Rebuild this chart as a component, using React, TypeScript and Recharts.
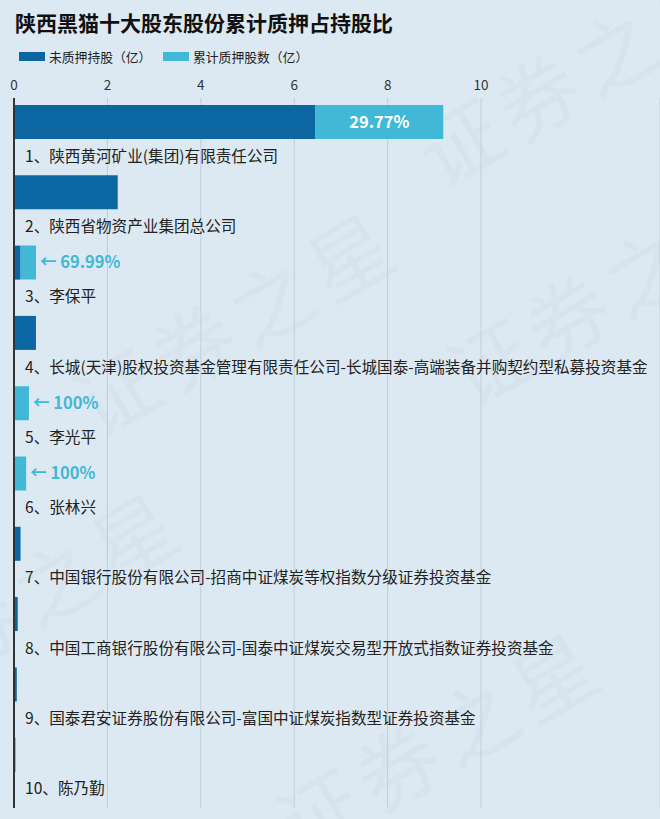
import React from "react";
import { Bar, BarChart, CartesianGrid, LabelList, XAxis, YAxis } from "recharts";

// 十大股东
const holders = [
  "1、陕西黄河矿业(集团)有限责任公司",
  "2、陕西省物资产业集团总公司",
  "3、李保平",
  "4、长城(天津)股权投资基金管理有限责任公司-长城国泰-高端装备并购契约型私募投资基金",
  "5、李光平",
  "6、张林兴",
  "7、中国银行股份有限公司-招商中证煤炭等权指数分级证券投资基金",
  "8、中国工商银行股份有限公司-国泰中证煤炭交易型开放式指数证券投资基金",
  "9、国泰君安证券股份有限公司-富国中证煤炭指数型证券投资基金",
  "10、陈乃勤",
];

// 未质押持股（亿）
const unpledged = [6.454, 2.22, 0.141, 0.47, 0, 0, 0.14, 0.08, 0.06, 0.03];
// 累计质押股数（亿）
const pledged = [2.736, 0, 0.33, 0, 0.32, 0.26, 0, 0, 0, 0];
// 累计质押占持股比
const pledgeRatio = ["29.77%", "", "69.99%", "", "100%", "100%", "", "", "", ""];

const xTicks = [0, 2, 4, 6, 8, 10];

const DARK = "#0b66a1";
const LIGHT = "#41b8d5";
const FONT = '"Noto Sans CJK SC", "Noto Sans", sans-serif';

const data = holders.map((name, i) => ({
  name,
  unpledged: unpledged[i],
  pledged: pledged[i],
  pad: 0,
  ratio: pledgeRatio[i],
}));

// holder name sits under its bar
const renderHolderTick = (props: any) => {
  const { y, payload } = props;
  return (
    <text x={25} y={y + 23} dy="0.35em" fontSize={15.6} fill="#222" fontFamily={FONT}>
      {payload.value}
    </text>
  );
};

const RatioLabel = (props: any) => {
  const { x, y, width, height, value } = props;
  if (!value) return null;
  const cy = y + height / 2;
  if (width > 80) {
    return (
      <text x={x + width / 2} y={cy} dy="0.35em" textAnchor="middle" fontSize={16.5} fontWeight="bold" fill="#fff" fontFamily={FONT}>
        {value}
      </text>
    );
  }
  return (
    <text x={x + width + 4} y={cy} dy="0.35em" fontSize={16.5} fontWeight="bold" fill={LIGHT} fontFamily={FONT}>
      {"← " + value}
    </text>
  );
};

const watermarks = [
  { x: 96, y: 440 },
  { x: 470, y: 410 },
  { x: 440, y: 190 },
  { x: -120, y: 720 },
  { x: 300, y: 860 },
];

export default function App() {
  return (
    <div
      style={{
        position: "absolute",
        left: 0,
        top: 0,
        width: 660,
        height: 819,
        background: "#dde9f2",
        overflow: "hidden",
        fontFamily: FONT,
      }}
    >
      <svg width={660} height={819} style={{ position: "absolute", left: 0, top: 0 }}>
        {watermarks.map((w, i) => (
          <text
            key={i}
            x={w.x}
            y={w.y}
            fontSize={82}
            fill="#c8d5df"
            opacity={0.22}
            fontFamily={FONT}
            letterSpacing={8}
            transform={`rotate(-30 ${w.x} ${w.y})`}
          >
            证券之星
          </text>
        ))}
      </svg>
      <div
        style={{
          position: "absolute",
          left: 15,
          top: 9,
          fontSize: 21,
          lineHeight: "26px",
          fontWeight: "bold",
          color: "#111",
        }}
      >
        陕西黑猫十大股东股份累计质押占持股比
      </div>
      <div style={{ position: "absolute", left: 19, top: 52, width: 26, height: 9, background: DARK }} />
      <div style={{ position: "absolute", left: 49, top: 48, fontSize: 12.8, lineHeight: "17px", color: "#222" }}>
        未质押持股（亿）
      </div>
      <div style={{ position: "absolute", left: 163, top: 52, width: 26, height: 9, background: LIGHT }} />
      <div style={{ position: "absolute", left: 193, top: 48, fontSize: 12.8, lineHeight: "17px", color: "#222" }}>
        累计质押股数（亿）
      </div>
      <div style={{ position: "absolute", left: 0, top: 0 }}>
        <BarChart
          width={660}
          height={819}
          data={data}
          layout="vertical"
          barGap={0}
          margin={{ top: 68, right: 0, bottom: 11, left: 13 }}
        >
          <CartesianGrid horizontal={false} stroke="#bfcdd9" />
          <XAxis
            type="number"
            orientation="top"
            domain={[0, 13.83]}
            ticks={xTicks}
            allowDataOverflow
            axisLine={false}
            tickLine={false}
            tickSize={0}
            tickMargin={8}
            height={30}
            tick={{ fill: "#333", fontSize: 13.5, fontFamily: FONT }}
          />
          <YAxis
            type="category"
            dataKey="name"
            width={1}
            interval={0}
            padding={{ top: 0, bottom: 7 }}
            tickLine={false}
            axisLine={{ stroke: "#333", strokeWidth: 2 }}
            tick={renderHolderTick}
          />
          <Bar dataKey="unpledged" stackId="a" fill={DARK} barSize={34} isAnimationActive={false} />
          <Bar dataKey="pledged" stackId="a" fill={LIGHT} barSize={34} isAnimationActive={false}>
            <LabelList dataKey="ratio" content={RatioLabel} />
          </Bar>
          <Bar dataKey="pad" stackId="b" fill="none" barSize={22} isAnimationActive={false} />
        </BarChart>
      </div>
    </div>
  );
}
